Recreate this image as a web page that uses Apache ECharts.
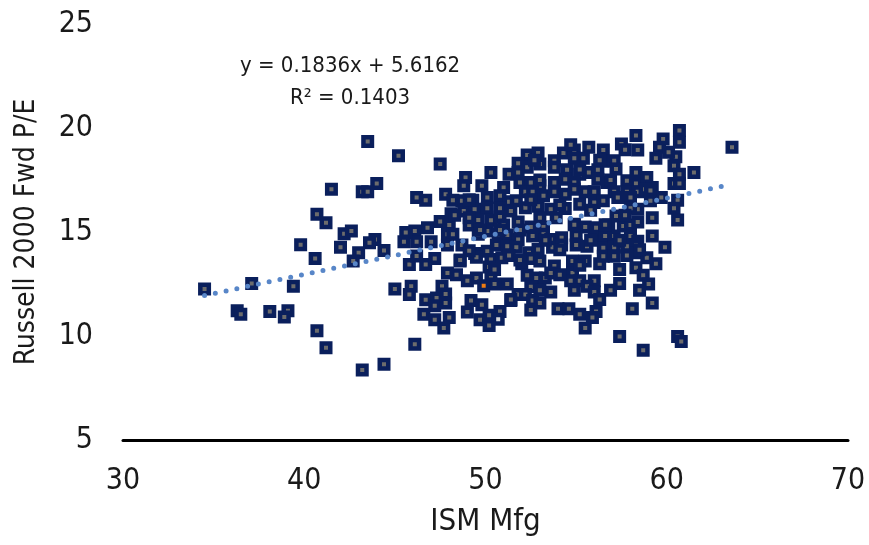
<!DOCTYPE html>
<html>
<head>
<meta charset="utf-8">
<script src="https://cdn.jsdelivr.net/npm/echarts@6/dist/echarts.min.js"></script>
<style>
  html, body { margin: 0; padding: 0; background: #fff; }
  #chart { width: 869px; height: 545px; }
</style>
</head>
<body>
<div id="chart"></div>
<script>
// ISM Mfg (x) vs Russell 2000 Fwd P/E (y)
var ismMfg = [
  43.5,45.2,47.5,41.5,43.2,43.5,44.0,46.2,46.7,40.7,41.2,42.2,42.6,46.8,46.1,39.8,42.0,45.5,46.2,47.0,
  43.9,43.6,44.4,40.6,43.0,42.7,45.8,46.2,46.7,47.2,34.5,37.1,39.4,36.3,36.5,38.1,39.1,38.9,40.7,41.2,
  43.2,44.4,45.0,45.9,45.8,46.7,47.3,47.2,46.6,47.2,46.1,47.5,45.6,
  52.3,52.9,54.3,54.9,55.7,56.5,55.4,54.9,53.8,56.5,51.8,50.3,51.3,52.3,53.0,53.8,54.5,55.2,55.7,56.2,
  51.8,48.9,49.8,51.0,51.9,52.5,53.0,53.8,54.4,54.9,56.2,56.7,47.8,48.8,48.2,48.7,49.3,50.1,50.8,51.3,
  51.7,52.2,52.6,53.2,53.8,54.4,54.9,55.5,56.0,48.1,48.8,49.4,50.1,50.8,51.4,52.2,52.9,53.6,54.4,55.2,
  56.0,56.5,48.0,49.1,49.6,50.3,50.8,51.0,51.8,52.5,53.0,53.2,53.9,54.9,55.5,56.1,56.8,47.9,48.2,49.6,
  50.1,50.7,51.2,51.8,52.6,53.2,53.6,54.2,55.0,56.0,56.6,47.9,48.7,49.4,50.1,50.6,51.2,51.7,52.4,52.9,
  53.7,54.2,55.0,55.6,56.5,48.6,49.5,50.3,50.9,51.3,52.0,52.5,53.0,53.8,54.8,55.5,56.3,47.9,48.4,49.0,
  49.5,50.2,50.3,51.2,52.3,52.8,53.3,53.6,54.8,55.2,56.0,55.6,47.6,50.5,52.5,53.6,56.0,47.8,47.8,49.2,
  49.8,51.4,51.8,52.2,52.6,53.0,54.0,54.6,55.2,56.1,48.0,49.0,49.7,50.8,50.2,55.5,55.9,47.7,56.5,54.7,
  49.1,
  57.5,58.3,58.4,57.1,57.2,57.8,58.3,58.3,58.9,57.1,57.8,58.4,59.1,57.3,58.0,59.7,57.2,57.6,58.0,58.4,
  57.1,57.5,58.0,58.4,57.1,57.8,58.3,57.1,57.8,58.3,58.3,58.7,59.4,58.9,59.0,59.2,59.9,59.2,58.1,57.4,
  57.4,60.6,60.8,58.7,60.7,60.7,59.8,59.6,59.4,60.5,60.4,60.7,61.5,60.4,60.7,63.6,60.6,60.4,60.6,59.1,
  58.4,58.0,59.2,58.8,60.1,59.2,
  // partly hidden points inside the dense cluster (estimated)
  50.8,49.1,51.9,54.1,55.8,57.4,56.3,51.4,53.0,53.0,55.2,56.9,49.1,52.5,54.1,55.8,57.7,58.5,59.1,49.7,
  51.9,53.3,54.9,56.6,50.5,54.1,55.2,57.4,58.5,48.6,52.7,56.3,57.7,54.7,48.3,52.5,54.9,56.9,50.2
];
var fwdPE = [
  19.35,18.67,18.27,17.06,16.93,16.93,17.33,16.66,16.53,15.85,15.45,14.92,15.05,15.21,15.05,14.39,14.27,14.53,14.53,14.53,
  14.64,14.48,14.11,13.73,14.00,13.60,13.44,13.85,13.44,13.73,12.26,12.52,12.39,11.21,11.05,11.18,11.21,10.91,10.25,9.44,
  8.36,8.64,12.26,12.39,11.99,11.74,11.83,11.46,11.05,10.78,9.60,15.50,14.97,
  18.70,18.80,18.80,18.94,19.07,18.94,18.54,18.54,18.43,18.40,18.30,17.86,17.78,18.11,18.27,18.11,17.99,17.78,17.86,17.99,
  17.86,17.62,17.22,17.14,17.38,17.38,17.22,17.38,17.54,17.38,17.54,17.38,16.82,17.22,16.53,16.50,16.53,16.66,16.74,16.45,
  16.50,16.93,16.93,16.74,16.93,16.82,17.06,16.93,16.93,15.88,16.01,16.09,16.14,16.14,16.01,16.17,16.24,16.09,16.13,16.34,
  16.42,16.50,15.34,15.34,15.58,15.56,15.72,15.34,15.48,15.24,15.69,15.24,15.69,15.37,15.24,15.21,15.34,14.89,14.89,14.89,
  15.05,14.89,14.85,14.64,14.81,14.89,14.64,14.72,14.84,14.64,14.81,14.37,14.37,13.97,14.08,14.37,14.32,14.27,14.00,14.16,
  14.27,14.37,14.37,14.32,14.24,13.60,13.79,13.68,13.76,13.87,13.47,13.73,13.60,13.36,13.60,13.60,13.47,13.03,12.95,12.66,
  12.79,13.32,12.87,12.50,12.92,12.79,12.79,13.03,13.03,12.66,12.66,12.39,12.39,12.50,12.37,12.12,12.12,12.02,11.59,11.71,
  11.50,11.71,11.99,11.99,11.71,11.59,11.31,11.31,11.05,11.18,10.89,11.15,10.78,11.18,10.51,10.38,10.89,10.38,13.84,12.66,
  15.69,
  19.23,19.64,18.94,18.43,18.03,17.46,17.86,17.33,17.62,16.93,16.93,16.93,16.93,16.66,16.66,16.66,15.77,15.29,15.34,15.48,
  14.81,14.56,14.81,14.56,14.27,14.32,14.37,13.84,13.87,14.00,13.28,12.92,13.47,13.76,12.50,14.81,14.27,11.59,11.31,12.52,
  9.98,9.98,9.73,9.31,19.88,19.31,19.47,19.07,18.54,18.62,18.19,17.78,17.86,17.33,17.33,19.07,16.53,16.14,15.58,16.50,
  16.09,16.14,17.14,17.06,18.83,15.69,
  15.1,14.1,13.65,14.15,14.6,13.2,11.75,11.75,12.2,17.5,18.0,17.5,16.55,16.55,16.3,16.05,15.8,14.15,17.0,15.1,
  15.1,14.6,15.35,15.35,13.2,12.95,13.4,14.6,12.2,13.65,18.45,18.45,18.95,19.2,15.8,11.25,12.2,12.2,11.0
];
// the two points drawn with a different centre colour
var latestX = [49.9];
var latestY = [12.42];
var prevX = [50.7];
var prevY = [10.80];
// linear trend endpoints (y = 0.1836x + 5.6162)
var trendX = [34.5, 63.1];
var trendY = [11.95, 17.2];
var xTicks = [30, 40, 50, 60, 70];
var yTicks = [5, 10, 15, 20, 25];

var FONT = '"Liberation Sans Narrow", "DejaVu Sans Condensed", "Open Sans", sans-serif';
var TXT = '#1a1a1a';
var NAVY = '#0a1f5c';

function pairs(xs, ys) {
  return xs.map(function (x, i) { return [x, ys[i]]; });
}

var chart = echarts.init(document.getElementById('chart'));
chart.setOption({
  animation: false,
  backgroundColor: '#fff',
  grid: { left: 123, right: 21, top: 24, bottom: 105 },
  xAxis: {
    type: 'value',
    min: xTicks[0], max: xTicks[xTicks.length - 1], interval: 10,
    name: 'ISM Mfg',
    nameLocation: 'middle',
    nameGap: 66,
    nameTextStyle: { fontFamily: FONT, fontSize: 31, color: TXT },
    axisLine: { show: true, onZero: false, lineStyle: { color: '#000', width: 3 } },
    axisTick: { show: false },
    splitLine: { show: false },
    axisLabel: { fontFamily: FONT, fontSize: 30, color: TXT, margin: 26 }
  },
  yAxis: {
    type: 'value',
    min: yTicks[0], max: yTicks[yTicks.length - 1], interval: 5,
    name: 'Russell 2000 Fwd P/E',
    nameLocation: 'middle',
    nameGap: 82,
    nameTextStyle: { fontFamily: FONT, fontSize: 28, color: TXT },
    axisLine: { show: false },
    axisTick: { show: false },
    splitLine: { show: false },
    axisLabel: { fontFamily: FONT, fontSize: 30, color: TXT, margin: 30 }
  },
  graphic: [
    {
      type: 'text', left: 240, top: 55,
      style: { text: 'y = 0.1836x + 5.6162', font: '22px ' + FONT, fill: TXT }
    },
    {
      type: 'text', left: 290, top: 87,
      style: { text: 'R² = 0.1403', font: '22px ' + FONT, fill: TXT }
    }
  ],
  series: [
    {
      type: 'scatter',
      symbol: 'rect',
      symbolSize: 8.5,
      itemStyle: { color: '#6c6c6c', borderColor: NAVY, borderWidth: 4.5, opacity: 1 },
      data: pairs(ismMfg, fwdPE),
      z: 2
    },
    {
      type: 'scatter',
      symbol: 'rect',
      symbolSize: 8.5,
      itemStyle: { color: '#d9d9d9', borderColor: NAVY, borderWidth: 4.5, opacity: 1 },
      data: pairs(prevX, prevY),
      z: 3
    },
    {
      type: 'scatter',
      symbol: 'rect',
      symbolSize: 8.5,
      itemStyle: { color: '#f07c12', borderColor: NAVY, borderWidth: 4.5, opacity: 1 },
      data: pairs(latestX, latestY),
      z: 3
    },
    {
      type: 'line',
      data: pairs(trendX, trendY),
      symbol: 'none',
      silent: true,
      lineStyle: { color: '#5886c8', width: 5, type: [0, 11], cap: 'round' },
      z: 5
    }
  ]
});
</script>
</body>
</html>
